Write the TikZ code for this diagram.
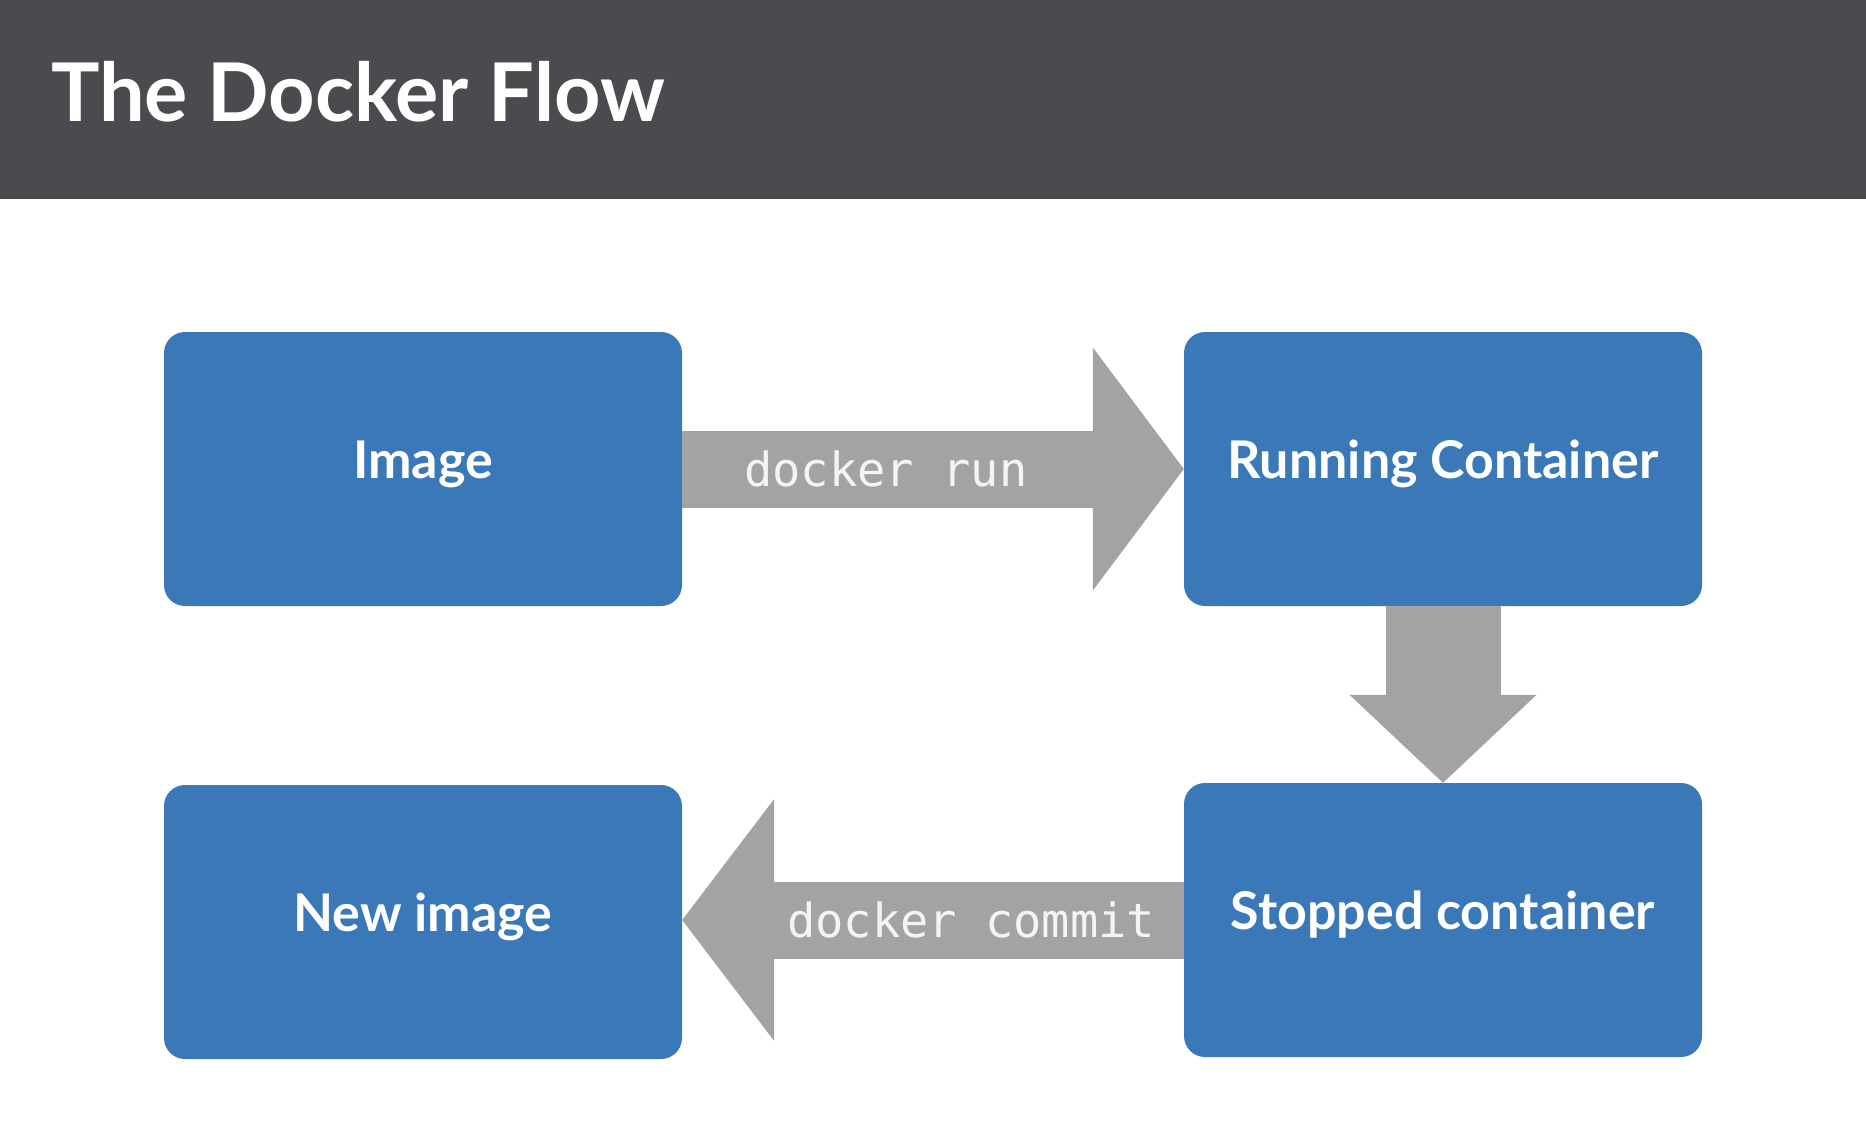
\documentclass[tikz,border=0pt]{standalone}
\usepackage{fontspec}
\setmainfont{Lato}
\setmonofont{DejaVu Sans Mono}
\usepackage{tikz}
\usetikzlibrary{arrows.meta}
\definecolor{headgray}{HTML}{4A4B4F}
\definecolor{dockblue}{HTML}{3A78B8}
\definecolor{flowgray}{HTML}{A2A3A5}
\definecolor{cmdwhite}{HTML}{F4F4F4}

\begin{document}
\begin{tikzpicture}[x=1pt,y=-1pt,
    box/.style={fill=dockblue,rounded corners=21pt,minimum width=518pt,minimum height=274pt,
      inner sep=0pt,text height=38pt,text depth=20pt,text=white,font=\fontsize{52}{60}\selectfont\bfseries},
    flow/.style={draw=flowgray,line cap=butt},
    cmd/.style={text=cmdwhite,inner sep=0pt,font=\fontsize{47}{52}\selectfont\ttfamily}]
   \useasboundingbox (0,0) rectangle (1866,1130);
   \fill[white] (0,0) rectangle (1866,1130);
   \fill[headgray] (0,0) rectangle (1866,199);
   \draw (51,121) node[anchor=base west,inner sep=0pt,text=white,font=\fontsize{81}{90}\selectfont\bfseries] (title) {The Docker Flow};
    \draw (423,469) node[box] (img) {Image};
    \draw (1443,469) node[box] (run) {Running Container};
    \draw (423,922) node[box] (new) {New image};
    \draw (1443,920) node[box] (stop) {Stopped container};
       \draw[flow,line width=77pt,-{Triangle[length=91pt,width=243pt,line width=0pt]}] (img) -- (run) node[cmd,pos=0.406] (runcmd) {docker run};
       \draw[flow,line width=115pt,-{Triangle[length=88pt,width=187pt,line width=0pt]}] (run) -- (stop);
       \draw[flow,line width=77pt,-{Triangle[length=92pt,width=242pt,line width=0pt]}] (stop.west) -- (stop.west -| new.east) node[cmd,pos=0.424] (commitcmd) {docker commit};

\end{tikzpicture}
\end{document}
